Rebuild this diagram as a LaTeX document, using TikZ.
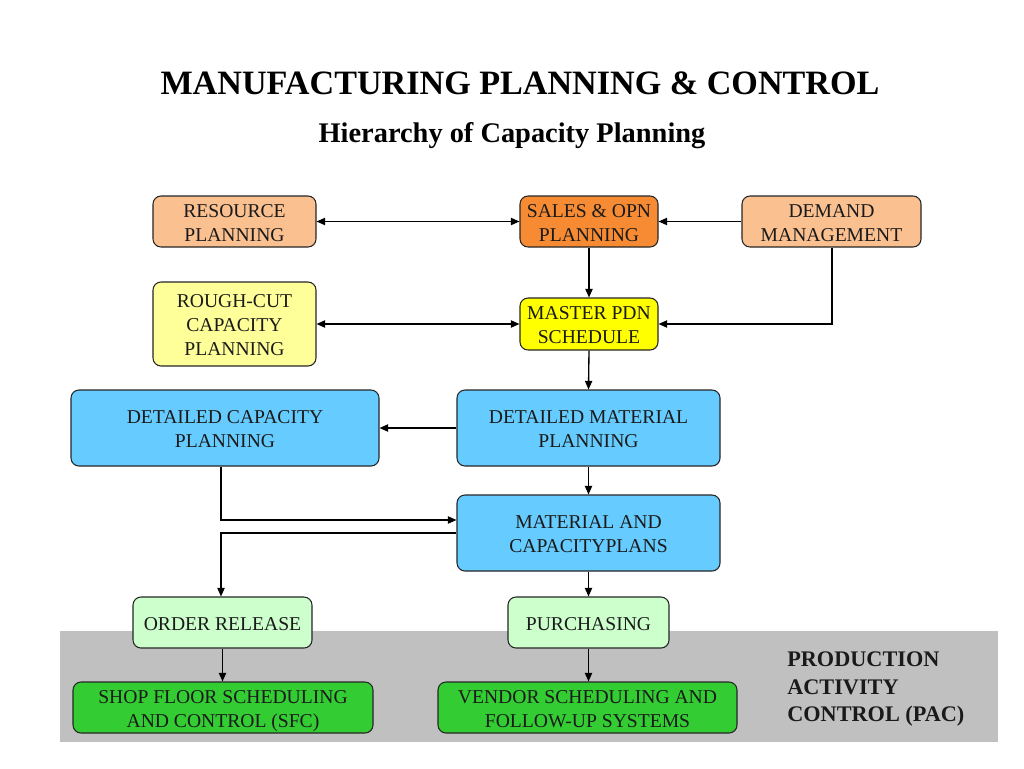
\documentclass[tikz,border=0pt]{standalone}
\usepackage{fontspec}
\setmainfont{Liberation Serif}
\usetikzlibrary{arrows.meta}
\definecolor{peach}{HTML}{FAC090}
\definecolor{orng}{HTML}{F68B33}
\definecolor{lyel}{HTML}{FFFF99}
\definecolor{yel}{HTML}{FFFF00}
\definecolor{lblue}{HTML}{66CCFF}
\definecolor{lgreen}{HTML}{CCFFCC}
\definecolor{grn}{HTML}{33CC33}
\definecolor{band}{HTML}{C0C0C0}
\definecolor{txt}{HTML}{1A1A1A}
\newcommand\bt[1]{\raisebox{0pt}[\dimexpr\height+2.25pt\relax][\dimexpr\depth-2.25pt\relax]{\begin{tabular}{@{}c@{}}#1\end{tabular}}}
\tikzset{
  box/.style 2 args={draw=black!85, line width=0.8pt, rounded corners=6pt,
    minimum width=#1*0.75pt, minimum height=#2*0.75pt,
    inner sep=0pt, text=txt, font=\fontsize{14.7pt}{18pt}\selectfont},
  arr/.style={line width=1pt, -{Triangle[length=6.5pt,width=5.5pt]}},
  darr/.style={line width=1pt, {Triangle[length=6.5pt,width=5.5pt]}-{Triangle[length=6.5pt,width=5.5pt]}},
}
\begin{document}
\begin{tikzpicture}[x=0.75pt,y=-0.75pt]
\useasboundingbox (0,0) rectangle (1024,768);
\fill[white] (0,0) rectangle (1024,768);
% gray band
\fill[band] (60,631) rectangle (998,742);
% titles
\node[anchor=base, inner sep=0pt, font=\fontsize{25.6pt}{30pt}\selectfont\bfseries] (title) at (520,94) {MANUFACTURING PLANNING \& CONTROL};
\node[anchor=base, inner sep=0pt, font=\fontsize{21.3pt}{26pt}\selectfont\bfseries] (sub) at (512,142) {Hierarchy of Capacity Planning};
% boxes
\node[box={163}{51}, fill=peach] (res) at (234.5,221.5) {\bt{RESOURCE\\PLANNING}};
\node[box={138}{51}, fill=orng] (sales) at (589,221.5) {\bt{SALES \& OPN\\PLANNING}};
\node[box={179}{51}, fill=peach] (dem) at (831.5,221.5) {\bt{DEMAND\\MANAGEMENT}};
\node[box={163}{84}, fill=lyel] (rough) at (234.5,324) {\bt{ROUGH-CUT\\CAPACITY\\PLANNING}};
\node[box={138}{52}, fill=yel] (mps) at (589,324) {\bt{MASTER PDN\\SCHEDULE}};
\node[box={308}{76}, fill=lblue] (dcp) at (225,428) {\bt{DETAILED CAPACITY\\PLANNING}};
\node[box={263}{76}, fill=lblue] (dmp) at (588.5,428) {\bt{DETAILED MATERIAL\\PLANNING}};
\node[box={263}{76}, fill=lblue] (mcp) at (588.5,533) {\bt{MATERIAL AND\\CAPACITYPLANS}};
\node[box={179}{51}, fill=lgreen] (ord) at (222.5,622.5) {\bt{ORDER RELEASE}};
\node[box={161}{51}, fill=lgreen] (pur) at (588.5,622.5) {\bt{PURCHASING}};
\node[box={300}{51}, fill=grn] (sfc) at (223,707.5) {\bt{SHOP FLOOR SCHEDULING\\AND CONTROL (SFC)}};
\node[box={299}{51}, fill=grn] (ven) at (587.5,707.5) {\bt{VENDOR SCHEDULING AND\\FOLLOW-UP SYSTEMS}};
\node[anchor=west, inner sep=0pt, align=left, text=txt,
  font=\fontsize{16.7pt}{20.3pt}\selectfont\bfseries] (pac) at (787,689) {PRODUCTION\\ACTIVITY\\CONTROL (PAC)};
% connectors
\draw[darr] (res.east) -- (sales.west);
\draw[arr] (dem.west) -- (sales.east);
\draw[arr] (sales.south) -- (mps.north);
\draw[darr] (rough.east) -- (mps.west);
\draw[arr] (dem.south -| 832,0) |- (mps.east);
\draw[arr] (mps.south) -- (dmp.north);
\draw[arr] (dmp.west) -- (dcp.east);
\draw[arr] (dmp.south) -- (mcp.north);
\coordinate (c1) at (221,520);
\draw[arr] (dcp.south -| c1) -- (c1) -- (mcp.west |- c1);
\coordinate (c2) at (221,533);
\draw[arr] (mcp.west) -- (c2) -- (ord.north -| c2);
\draw[arr] (mcp.south) -- (pur.north);
\draw[arr] (ord.south) -- (sfc.north -| ord.south);
\draw[arr] (pur.south) -- (ven.north -| pur.south);
\end{tikzpicture}
\end{document}
